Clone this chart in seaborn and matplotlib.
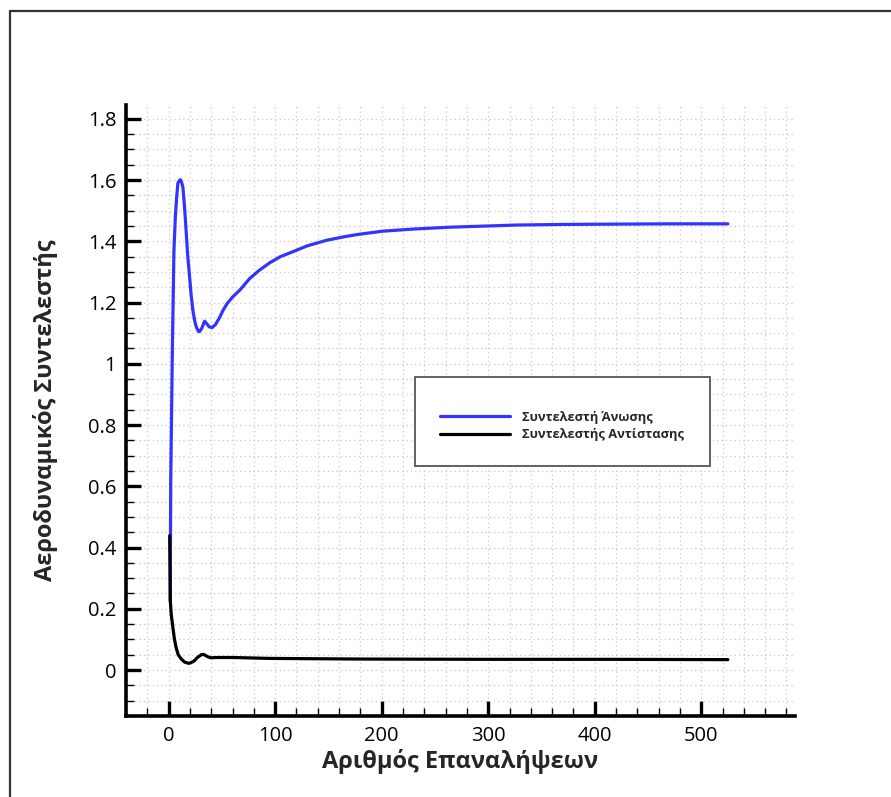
import numpy as np
import pandas as pd
import matplotlib
matplotlib.use("Agg")
import matplotlib.pyplot as plt
import seaborn as sns
from matplotlib.lines import Line2D
from matplotlib.patches import Rectangle
from matplotlib.ticker import MultipleLocator

# ---- data ----
lift_iter = [1.5, 2, 3.5, 5, 6.3, 7.5, 8.7, 10, 11, 12, 13.4, 15, 16.6, 18, 19.7, 21, 22.8,
             24.5, 26, 28, 29, 31, 33.8, 36, 38, 40.7, 44, 48, 51, 55, 60, 66.7, 76, 85,
             95, 105, 116, 130, 148, 165, 179, 201, 230, 264, 300, 326, 370, 420, 470, 525]
lift_vals = [0.226, 0.62, 1.04, 1.37, 1.479, 1.54, 1.59, 1.598, 1.601, 1.595, 1.577, 1.51,
             1.425, 1.35, 1.283, 1.23, 1.174, 1.14, 1.12, 1.106, 1.105, 1.115, 1.139, 1.13,
             1.121, 1.118, 1.128, 1.152, 1.174, 1.197, 1.218, 1.24, 1.278, 1.305, 1.33,
             1.35, 1.365, 1.385, 1.403, 1.415, 1.423, 1.433, 1.440, 1.446, 1.450, 1.453,
             1.455, 1.456, 1.457, 1.457]

drag_iter = [1, 1.6, 2.5, 4, 5.5, 7, 9, 11.9, 15, 18.8, 21, 24, 27, 30.7, 33, 35, 37, 39.8,
             45, 61, 95, 179, 300, 420, 525]
drag_vals = [0.439, 0.226, 0.18, 0.139, 0.10, 0.074, 0.05, 0.036, 0.026, 0.022, 0.024, 0.030,
             0.041, 0.05, 0.051, 0.047, 0.043, 0.040, 0.041, 0.041, 0.038, 0.036, 0.035,
             0.035, 0.034]

series_names = ["Συντελεστή Άνωσης", "Συντελεστής Αντίστασης"]
series_colors = ["#3333ff", "#000000"]
x_label = "Αριθμός Επαναλήψεων"
y_label = "Αεροδυναμικός Συντελεστής"

df = pd.concat([
    pd.DataFrame({"iter": lift_iter, "val": lift_vals, "series": series_names[0]}),
    pd.DataFrame({"iter": drag_iter, "val": drag_vals, "series": series_names[1]}),
], ignore_index=True)

sns.set_style("white")
plt.rcParams["font.family"] = ["Open Sans", "DejaVu Sans"]

W, H = 891, 797
fig = plt.figure(figsize=(W / 100, H / 100), dpi=100)
ax = fig.add_axes([126 / W, 1 - 716 / H, (795 - 126) / W, (716 - 105) / H])

sns.lineplot(data=df, x="iter", y="val", hue="series", palette=dict(zip(series_names, series_colors)),
             sort=False, estimator=None, linewidth=2.3, legend=False, ax=ax)

ax.set_xlim(-40, 588)
ax.set_ylim(-0.15, 1.845)
ax.xaxis.set_major_locator(MultipleLocator(100))
ax.xaxis.set_minor_locator(MultipleLocator(20))
ax.yaxis.set_major_locator(MultipleLocator(0.2))
ax.yaxis.set_minor_locator(MultipleLocator(0.05))

def yfmt(v, pos):
    s = f"{v:.1f}"
    if abs(v) < 1e-9:
        return "0"
    if s.endswith(".0"):
        return s[:-2]
    return s
def xfmt(v, pos):
    return f"{int(round(v))}"
ax.yaxis.set_major_formatter(plt.FuncFormatter(yfmt))
ax.xaxis.set_major_formatter(plt.FuncFormatter(xfmt))

ax.grid(True, which="both", linestyle=(0, (1, 2.5)), color="#c8c8c8", linewidth=0.9)
ax.set_axisbelow(True)

for s in ["top", "right"]:
    ax.spines[s].set_visible(False)
for s in ["left", "bottom"]:
    ax.spines[s].set_linewidth(2.6)
    ax.spines[s].set_color("black")

ax.tick_params(which="major", direction="in", length=11, width=2.4, labelsize=14.5,
               pad=7, colors="black")
ax.tick_params(which="minor", direction="in", length=6, width=1.0, colors="black")
ax.tick_params(axis="both", which="both", bottom=True, left=True, top=False, right=False)

ax.set_xlabel(x_label, fontsize=17, fontweight="bold")
ax.set_ylabel(y_label, fontsize=17, fontweight="bold")
ax.xaxis.set_label_coords(0.5, -0.074)
ax.xaxis.label.set_va("center")
ax.yaxis.set_label_coords(-0.121, 0.5)
ax.yaxis.label.set_va("center")

# legend box
ax.add_patch(Rectangle((0.432, 0.409), 0.441, 0.146, transform=ax.transAxes,
                       facecolor="white", edgecolor="#555555", linewidth=1.3, zorder=5))
handles = [Line2D([], [], color=c, linewidth=2.3) for c in series_colors]
leg = ax.legend(handles, series_names, loc="center left",
                bbox_to_anchor=(440 / W, 1 - 426 / H), bbox_transform=fig.transFigure,
                frameon=False, prop={"weight": "bold", "size": 9.3},
                handlelength=5.4, handletextpad=0.95, labelspacing=0.35, borderpad=0,
                borderaxespad=0)
leg.set_zorder(6)

# outer frame (left and top edges)
fig.add_artist(Line2D([9.5 / W, 9.5 / W], [0, 1 - 10.5 / H], transform=fig.transFigure,
                      color="#333333", linewidth=1.6))
fig.add_artist(Line2D([9.5 / W, 1], [1 - 10.5 / H, 1 - 10.5 / H], transform=fig.transFigure,
                      color="#333333", linewidth=1.6))

fig.savefig("out.png", dpi=100)
